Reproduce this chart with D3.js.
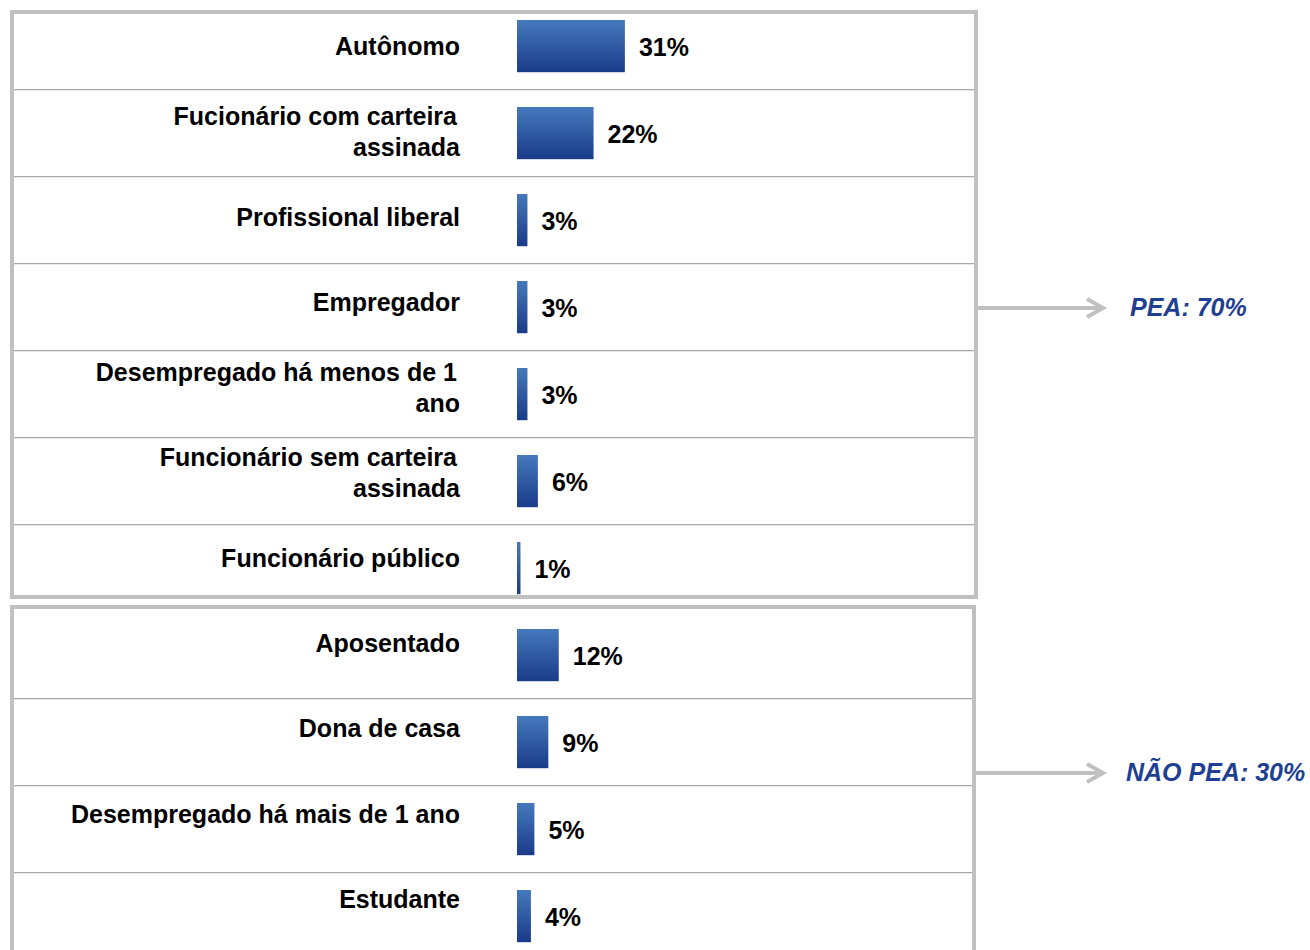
<!DOCTYPE html>
<html>
<head>
<meta charset="utf-8">
<script src="https://cdn.jsdelivr.net/npm/d3@7"></script>
<style>
  body { margin: 0; background: #fff; }
  svg text { font-family: "Liberation Sans", Arial, Helvetica, sans-serif; }
</style>
</head>
<body>
<div id="chart"></div>
<script>
// categories, in drawing order (each entry may be split over two lines)
const categories = [
    "Autônomo",
    "Fucionário com carteira assinada",
    "Profissional liberal",
    "Empregador",
    "Desempregado há menos de 1 ano",
    "Funcionário sem carteira assinada",
    "Funcionário público",
    "Aposentado",
    "Dona de casa",
    "Desempregado há mais de 1 ano",
    "Estudante"
];
const labelLines = [
    ["Autônomo"],
    ["Fucionário com carteira", "assinada"],
    ["Profissional liberal"],
    ["Empregador"],
    ["Desempregado há menos de 1", "ano"],
    ["Funcionário sem carteira", "assinada"],
    ["Funcionário público"],
    ["Aposentado"],
    ["Dona de casa"],
    ["Desempregado há mais de 1 ano"],
    ["Estudante"]
];
const values = [31, 22, 3, 3, 3, 6, 1, 12, 9, 5, 4];
const groups = ["PEA", "PEA", "PEA", "PEA", "PEA", "PEA", "PEA", "NÃO PEA", "NÃO PEA", "NÃO PEA", "NÃO PEA"];
const groupLabels = ["PEA: 70%", "NÃO PEA: 30%"];

const width = 1310, height = 950;
const data = categories.map((c, i) => ({cat: c, lines: labelLines[i], value: values[i], group: groups[i]}));

const svg = d3.select("#chart").append("svg")
    .attr("width", width)
    .attr("height", height);

const defs = svg.append("defs");
const grad = defs.append("linearGradient")
    .attr("id", "barGrad")
    .attr("x1", 0).attr("y1", 0).attr("x2", 0).attr("y2", 1);
grad.append("stop").attr("offset", "0%").attr("stop-color", "#4579bc");
grad.append("stop").attr("offset", "100%").attr("stop-color", "#1a3b89");

// scales
const xScale = d3.scaleLinear().domain([0, 100]).range([517, 865]);
const yScale = d3.scaleBand()
    .domain(categories)
    .range([2.6, 959.6])
    .paddingInner(0.4)
    .paddingOuter(0.2);
const labelY = d3.scalePoint().domain(categories).range([46, 899]);
const bw = yScale.bandwidth();
const step = yScale.step();

// boxes around the two groups
const boxes = [
    {x0: 12, x1: 976, y0: 12, y1: 597},
    {x0: 12, x1: 974, y0: 607, y1: 962}
];
svg.selectAll(".box")
    .data(boxes)
    .join("rect")
    .attr("class", "box")
    .attr("x", d => d.x0).attr("y", d => d.y0)
    .attr("width", d => d.x1 - d.x0).attr("height", d => d.y1 - d.y0)
    .attr("fill", "none")
    .attr("stroke", "#c0c0c0")
    .attr("stroke-width", 4);

// divider lines between rows of the same group
const dividers = data.slice(0, -1).filter((d, i) => d.group === data[i + 1].group);
svg.selectAll(".divider")
    .data(dividers)
    .join("line")
    .attr("class", "divider")
    .attr("x1", 14).attr("x2", d => d.group === "PEA" ? 974 : 972)
    .attr("y1", d => yScale(d.cat) + bw + (step - bw) / 2)
    .attr("y2", d => yScale(d.cat) + bw + (step - bw) / 2)
    .attr("stroke", "#a8a8a8")
    .attr("stroke-width", 1.3);

// bars
svg.selectAll(".bar")
    .data(data)
    .join("rect")
    .attr("class", "bar")
    .attr("x", xScale(0))
    .attr("y", d => yScale(d.cat))
    .attr("width", d => xScale(d.value) - xScale(0))
    .attr("height", bw)
    .attr("fill", "url(#barGrad)");

// value labels
svg.selectAll(".val")
    .data(data)
    .join("text")
    .attr("class", "val")
    .attr("x", d => xScale(d.value) + 14)
    .attr("y", d => yScale(d.cat) + bw / 2 + 10)
    .attr("font-size", 25)
    .attr("font-weight", "bold")
    .attr("fill", "#000")
    .text(d => d.value + "%");

// category labels
const lbl = svg.selectAll(".lbl")
    .data(data)
    .join("text")
    .attr("class", "lbl")
    .attr("text-anchor", "end")
    .attr("font-size", 25)
    .attr("font-weight", "bold")
    .attr("fill", "#000");
lbl.selectAll("tspan")
    .data(d => d.lines.map((l, i) => ({text: l, i: i, n: d.lines.length, cat: d.cat})))
    .join("tspan")
    .attr("x", d => d.n > 1 && d.i === 0 ? 457 : 460)
    .attr("y", d => labelY(d.cat) + 9 + (d.i - (d.n - 1) / 2) * 31)
    .text(d => d.text);

// arrows to the group totals
const arrows = [
    {y: 308, x0: 978, label: groupLabels[0], lx: 1130},
    {y: 773, x0: 976, label: groupLabels[1], lx: 1126}
];
const arrowG = svg.selectAll(".arrow")
    .data(arrows)
    .join("g")
    .attr("class", "arrow");
arrowG.append("line")
    .attr("x1", d => d.x0).attr("x2", 1101)
    .attr("y1", d => d.y).attr("y2", d => d.y)
    .attr("stroke", "#c0c0c0")
    .attr("stroke-width", 4);
arrowG.append("path")
    .attr("d", d => `M1087,${d.y - 9} L1103,${d.y} L1087,${d.y + 9}`)
    .attr("fill", "none")
    .attr("stroke", "#c0c0c0")
    .attr("stroke-width", 4);
arrowG.append("text")
    .attr("x", d => d.lx)
    .attr("y", d => d.y + 8)
    .attr("font-size", 25)
    .attr("font-weight", "bold")
    .attr("font-style", "italic")
    .attr("fill", "#1f3f93")
    .text(d => d.label);
</script>
</body>
</html>
